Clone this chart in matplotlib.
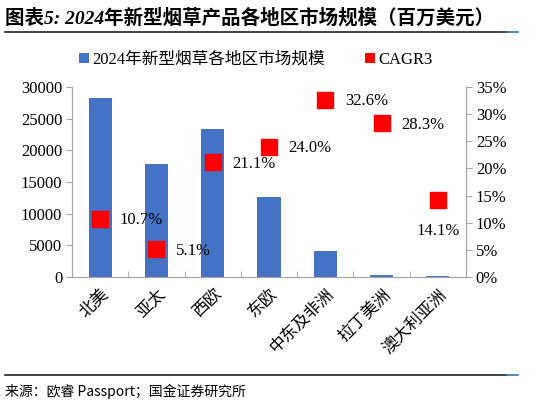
import matplotlib
matplotlib.use("Agg")
import matplotlib.pyplot as plt
from matplotlib.patches import Patch
from matplotlib.lines import Line2D
from matplotlib.ticker import FuncFormatter, MultipleLocator, FixedLocator
import numpy as np

regions = ['北美', '亚太', '西欧', '东欧', '中东及非洲', '拉丁美洲', '澳大利亚洲']
market = [28200, 17800, 23300, 12700, 4100, 300, 100]
cagr = [10.7, 5.1, 21.1, 24.0, 32.6, 28.3, 14.1]
title = '图表5: 2024年新型烟草产品各地区市场规模（百万美元）'
legend_labels = ['2024年新型烟草各地区市场规模', 'CAGR3']
source = '来源：欧睿 Passport；国金证券研究所'

plt.rcParams['font.family'] = ['Liberation Serif', 'Noto Sans CJK SC']
BLUE = '#4472C4'
RED = '#FF0000'
GRAY = '#A6A6A6'

fig = plt.figure(figsize=(5.47, 4.04), dpi=100)
ax = fig.add_axes([0.1316, 0.3144, 0.852 - 0.1316, 0.7847 - 0.3144])
ax2 = ax.twinx()

x = np.arange(len(regions))
ax.bar(x, market, width=0.41, color=BLUE, zorder=2)
ax.set_xlim(-0.5, len(regions) - 0.5)
ax.set_ylim(0, 30000)
ax.yaxis.set_major_locator(MultipleLocator(5000))
ax.tick_params(axis='y', direction='out', length=4, color=GRAY, labelsize=12, pad=3)

ax.set_xticks(x)
ax.set_xticklabels(regions, rotation=45, ha='right', rotation_mode='anchor',
                   fontsize=12, family=['Noto Sans CJK SC'], fontweight='light')
ax.tick_params(axis='x', length=0, pad=6)
ax.xaxis.set_minor_locator(FixedLocator(np.arange(0.5, len(regions) - 0.5, 1)))
ax.tick_params(axis='x', which='minor', direction='in', length=4, color=GRAY)

ax2.scatter(x, cagr, marker='s', s=130, color=RED, zorder=3)
ax2.set_ylim(0, 35)
ax2.yaxis.set_major_locator(MultipleLocator(5))
ax2.yaxis.set_major_formatter(FuncFormatter(lambda v, p: f'{v:.0f}%'))
ax2.tick_params(axis='y', direction='out', length=4, color=GRAY, labelsize=12, pad=3)

for i, v in enumerate(cagr):
    if i == len(cagr) - 1:
        ax2.annotate(f'{v:.1f}%', (x[i], v), xytext=(0, -22), textcoords='offset points',
                     ha='center', va='center', fontsize=12)
    else:
        ax2.annotate(f'{v:.1f}%', (x[i], v), xytext=(14, -1), textcoords='offset points',
                     ha='left', va='center', fontsize=12)

for a in (ax, ax2):
    a.spines['top'].set_visible(False)
    for s in ['left', 'right', 'bottom']:
        a.spines[s].set_color(GRAY)

handles = [Patch(facecolor=BLUE, edgecolor='none'), Patch(facecolor=RED, edgecolor='none')]
fig.legend(handles, legend_labels, loc='center', bbox_to_anchor=(0.468, 0.852), ncol=2,
           frameon=False, handlelength=0.6, handleheight=0.6,
           handletextpad=0.2, columnspacing=2.4,
           prop={'family': ['Liberation Serif', 'Noto Sans CJK SC'], 'size': 12, 'weight': 'light'})

fig.text(0.01, 0.957, title, fontsize=14, fontweight='bold', style='italic',
         family=['Liberation Serif', 'Noto Sans CJK SC'], ha='left', va='center')
fig.add_artist(Line2D([0.01, 0.927], [0.921, 0.921], color='#222222', lw=1.2, transform=fig.transFigure))
fig.add_artist(Line2D([0.927, 0.947], [0.921, 0.921], color='#2E75B6', lw=1.2, transform=fig.transFigure))
fig.add_artist(Line2D([0.01, 0.927], [0.072, 0.072], color='#222222', lw=1.2, transform=fig.transFigure))
fig.add_artist(Line2D([0.927, 0.947], [0.072, 0.072], color='#2E75B6', lw=1.2, transform=fig.transFigure))
fig.text(0.01, 0.032, source, fontsize=10, family=['Noto Sans CJK SC'], ha='left', va='center')

fig.savefig('out.png', dpi=100)
